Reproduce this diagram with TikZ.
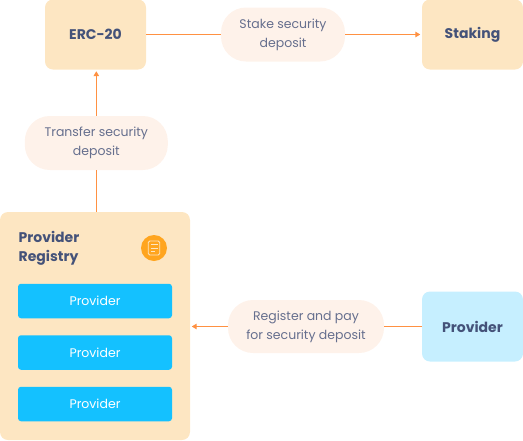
\documentclass[tikz,border=0pt]{standalone}
\usepackage{fontspec}
\setmainfont{Poppins}
\usetikzlibrary{arrows.meta}
\definecolor{boxtan}{HTML}{FDE6C2}
\definecolor{boxsky}{HTML}{C6EFFF}
\definecolor{boxblue}{HTML}{14C1FF}
\definecolor{pillrose}{HTML}{FEF2EA}
\definecolor{linkorange}{HTML}{FF9142}
\definecolor{iconorange}{HTML}{FFA51F}
\definecolor{titleink}{HTML}{445279}
\definecolor{pillink}{HTML}{666F8E}
\tikzset{
	contract/.style={fill=boxtan, rounded corners=8pt, minimum width=101pt, minimum height=70pt, text=titleink, font=\fontsize{14}{17}\selectfont\bfseries},
	member/.style={fill=boxblue, rounded corners=3pt, minimum width=154pt, minimum height=34.5pt, text=white, font=\fontsize{12.5}{15}\selectfont},
	pill/.style={fill=pillrose, rounded corners=25pt, text=pillink, align=center, font=\fontsize{12.5}{19}\selectfont},
	link/.style={draw=linkorange, line width=1.1pt},
	linkarrow/.style={link, -{Triangle[length=5pt,width=5.5pt]}, shorten >=1.5pt},
}
\begin{document}
\begin{tikzpicture}[x=1pt, y=1pt]
	\useasboundingbox (0,0) rectangle (523,-440);

	% Boxes
	\node[contract] (erc) at (95.5,-34.5) {ERC-20};
	\node[contract] (staking) at (472.5,-34.5) {Staking};
	\node[contract, fill=boxsky] (user) at (472.5,-326.5) {Provider};
	\node[fill=boxtan, rounded corners=8pt, minimum width=190pt, minimum height=228pt] (registry) at (95,-326) {};

	% Registry
	\node[anchor=north west, inner sep=0pt, align=left, text=titleink, font=\fontsize{14}{19}\selectfont\bfseries] (regtitle) at (18.5,-231) {Provider\\Registry};
	\node[circle, fill=iconorange, minimum size=26pt, inner sep=0pt] (regicon) at (154,-248) {};
	\node[draw=boxtan, line width=0.8pt, rounded corners=1.5pt, minimum width=11.5pt, minimum height=14pt, inner sep=0pt] (regpage) at (154,-248) {};
	\draw[boxtan, line width=0.8pt] (150.5,-244.5) -- (157.5,-244.5);
	\draw[boxtan, line width=0.8pt] (150.5,-248) -- (157.5,-248);
	\draw[boxtan, line width=0.8pt] (150.5,-251.5) -- (155,-251.5);
	\node[member] (memberone) at (95,-301) {Provider};
	\node[member] (membertwo) at (95,-352.5) {Provider};
	\node[member] (memberthree) at (95,-404) {Provider};

	% Labels
	\node[pill, minimum width=124pt, minimum height=54pt] (stake) at (283,-34.5) {Stake security\\deposit};
	\node[pill, minimum width=143pt, minimum height=54pt] (transfer) at (96.3,-143) {Transfer security\\deposit};
	\node[pill, minimum width=156pt, minimum height=53pt] (register) at (306,-326.5) {Register and pay\\for security deposit};

	% Connectors
	\draw[link] (erc) -- (stake);
	\draw[linkarrow] (stake) -- (staking);
	\draw[link] (transfer.south) -- (transfer.south |- registry.north);
	\draw[linkarrow] (transfer.north) -- (transfer.north |- erc.south);
	\draw[link] (user) -- (register);
	\draw[linkarrow] (register) -- (register -| registry.east);
\end{tikzpicture}
\end{document}
